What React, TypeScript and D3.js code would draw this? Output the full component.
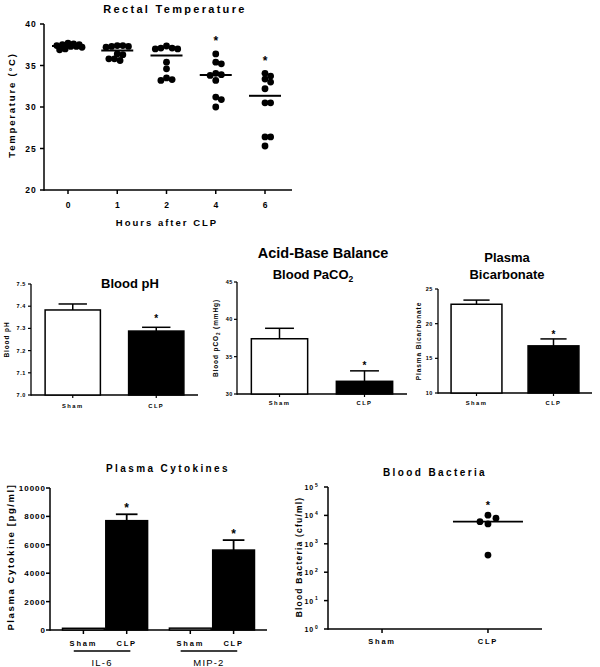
import React from "react";
import * as d3 from "d3";

// ---------------- DATA ----------------
const tempHours = ["0", "1", "2", "4", "6"];
const tempH0 = [37.6, 37.7, 37.5, 37.4, 37.3, 37.3, 37.2, 37.0, 36.9, 37.5];
const tempH1 = [37.4, 37.4, 37.3, 37.3, 37.2, 36.4, 36.3, 35.8, 35.6, 35.8];
const tempH2 = [37.35, 37.1, 37.0, 37.1, 37.0, 35.4, 34.6, 33.5, 33.2, 33.3];
const tempH4 = [36.4, 35.2, 35.4, 34.06, 33.8, 33.2, 33.9, 31.2, 30.0, 30.9];
const tempH6 = [34.06, 33.37, 33.73, 33.0, 32.2, 30.5, 30.5, 26.4, 26.4, 25.3];
const tempSignificant = [false, false, false, true, true];
const tempTicks = [20, 25, 30, 35, 40];

const groups = ["Sham", "CLP"];
const acidSignificant = [false, true];
const phMean = [7.383, 7.288];
const phSem = [0.027, 0.017];
const phTicks = [7.0, 7.1, 7.2, 7.3, 7.4, 7.5];
const pco2Mean = [37.4, 31.7];
const pco2Sem = [1.4, 1.4];
const pco2Ticks = [30, 35, 40, 45];
const bicarbMean = [22.8, 16.8];
const bicarbSem = [0.6, 1.0];
const bicarbTicks = [10, 15, 20, 25];

const cytokineNames = ["IL-6", "MIP-2"];
const cytokineSham = [120, 130];
const cytokineClp = [7700, 5630];
const cytokineClpSem = [450, 700];
const cytokineTicks = [0, 2000, 4000, 6000, 8000, 10000];

const bacteriaGroups = ["Sham", "CLP"];
const bacteriaClp = [10200, 8000, 6000, 5000, 400];
const bacteriaTickExp = [0, 1, 2, 3, 4, 5];

// ---------------- HELPERS ----------------
const FONT = "'Liberation Sans', Arial, Helvetica, sans-serif";

function swarm(ys: number[], minDist: number, step: number, maxSteps: number): number[] {
  const order = ys.map((_, i) => i).sort((a, b) => ys[a] - ys[b]);
  const placed: { x: number; y: number }[] = [];
  const out = new Array(ys.length).fill(0);
  for (const i of order) {
    let best = 0;
    let bestScore = -Infinity;
    for (let k = 0; k <= 2 * maxSteps; k++) {
      const off = (k % 2 === 1 ? 1 : -1) * Math.ceil(k / 2) * step;
      const d = placed.length
        ? Math.min(...placed.map((p) => Math.hypot(p.x - off, p.y - ys[i])))
        : Infinity;
      if (d >= minDist) {
        best = off;
        break;
      }
      if (d > bestScore) {
        bestScore = d;
        best = off;
      }
    }
    placed.push({ x: best, y: ys[i] });
    out[i] = best;
  }
  return out;
}

const Star = ({ x, cy, size }: { x: number; cy: number; size: number }) => (
  <text x={x} y={cy + size * 0.62} textAnchor="middle" fontSize={size} fontWeight="bold" fontFamily={FONT}>
    *
  </text>
);

// ---------------- TEMPERATURE ----------------
function TempChart() {
  const x = d3.scalePoint<string>().domain(tempHours).range([68, 265]);
  const y = d3.scaleLinear().domain([20, 40]).range([190, 24]);
  const series = [tempH0, tempH1, tempH2, tempH4, tempH6];
  const axisX = 44;
  const axisEnd = 292;
  return (
    <g fontFamily={FONT}>
      <text x={175} y={13} textAnchor="middle" fontSize={11} fontWeight="bold" letterSpacing={2.3}>
        Rectal Temperature
      </text>
      <line x1={axisX} x2={axisX} y1={y(40)} y2={y(20) + 0.75} stroke="#000" strokeWidth={1.5} />
      <line x1={axisX} x2={axisEnd} y1={y(20)} y2={y(20)} stroke="#000" strokeWidth={1.5} />
      {tempTicks.map((t) => (
        <g key={t}>
          <line x1={axisX - 4} x2={axisX} y1={y(t)} y2={y(t)} stroke="#000" strokeWidth={1.5} />
          <text x={37} y={y(t) + 3} textAnchor="end" fontSize={8.5} fontWeight="bold" letterSpacing={1.2}>
            {t}
          </text>
        </g>
      ))}
      {tempHours.map((h) => (
        <g key={h}>
          <line x1={x(h)} x2={x(h)} y1={y(20)} y2={y(20) + 4} stroke="#000" strokeWidth={1.5} />
          <text x={x(h)} y={208} textAnchor="middle" fontSize={8.5} fontWeight="bold">
            {h}
          </text>
        </g>
      ))}
      <text x={167} y={226} textAnchor="middle" fontSize={9.5} fontWeight="bold" letterSpacing={2}>
        Hours after CLP
      </text>
      <text
        transform={`translate(15,105) rotate(-90)`}
        textAnchor="middle"
        fontSize={9.5}
        fontWeight="bold"
        letterSpacing={1.8}
      >
        Temperature (°C)
      </text>
      {series.map((vals, gi) => {
        const cx = x(tempHours[gi]) as number;
        const ys = vals.map((v) => y(v));
        const offs = swarm(ys, 5.4, 2.8, 5);
        const med = d3.median(vals) as number;
        return (
          <g key={gi}>
            {vals.map((v, i) => (
              <circle key={i} cx={cx + offs[i]} cy={y(v)} r={3.4} fill="#000" />
            ))}
            <line x1={cx - 16} x2={cx + 16} y1={y(med)} y2={y(med)} stroke="#000" strokeWidth={2} />
            {tempSignificant[gi] && <Star x={cx} cy={y(d3.max(vals) as number) - 16} size={12} />}
          </g>
        );
      })}
    </g>
  );
}

// ---------------- BAR PANELS ----------------
type PanelProps = {
  axisX: number;
  axisEnd: number;
  yBottom: number;
  yTop: number;
  domain: [number, number];
  ticks: number[];
  fmt: (v: number) => string;
  means: number[];
  sems: number[];
  tickRight: number;
  ylabel: React.ReactNode;
  ylabelX: number;
  xlabelY: number;
  starGap: number;
};

function BarPanel(p: PanelProps) {
  const x = d3.scaleBand<string>().domain(groups).range([p.axisX, p.axisEnd]).paddingInner(0.32).paddingOuter(0.16);
  const y = d3.scaleLinear().domain(p.domain).range([p.yBottom, p.yTop]);
  const bw = x.bandwidth();
  return (
    <g fontFamily={FONT}>
      <line x1={p.axisX} x2={p.axisX} y1={p.yTop} y2={p.yBottom + 0.75} stroke="#000" strokeWidth={1.3} />
      <line x1={p.axisX} x2={p.axisEnd} y1={p.yBottom} y2={p.yBottom} stroke="#000" strokeWidth={1.3} />
      {p.ticks.map((t) => (
        <g key={t}>
          <line x1={p.axisX - 3} x2={p.axisX} y1={y(t)} y2={y(t)} stroke="#000" strokeWidth={1.2} />
          <text x={p.tickRight} y={y(t) + 2} textAnchor="end" fontSize={5.5} fontWeight="bold" letterSpacing={0.6}>
            {p.fmt(t)}
          </text>
        </g>
      ))}
      {groups.map((g, i) => {
        const x0 = x(g) as number;
        const cx = x0 + bw / 2;
        const top = y(p.means[i]);
        const errTop = y(p.means[i] + p.sems[i]);
        const sham = i === 0;
        return (
          <g key={g}>
            <rect
              x={x0 + 0.75}
              y={top}
              width={bw - 1.5}
              height={p.yBottom - top}
              fill={sham ? "#fff" : "#000"}
              stroke="#000"
              strokeWidth={1.5}
            />
            <line x1={cx} x2={cx} y1={top} y2={errTop} stroke="#000" strokeWidth={1.5} />
            <line x1={cx - bw / 4} x2={cx + bw / 4} y1={errTop} y2={errTop} stroke="#000" strokeWidth={1.5} />
            <line x1={cx} x2={cx} y1={p.yBottom} y2={p.yBottom + 3} stroke="#000" strokeWidth={1.2} />
            <text x={cx} y={p.xlabelY} textAnchor="middle" fontSize={5.8} fontWeight="bold" letterSpacing={1.4}>
              {g}
            </text>
            {acidSignificant[i] && <Star x={cx} cy={errTop - p.starGap} size={10} />}
          </g>
        );
      })}
      <g transform={`translate(${p.ylabelX},${(p.yTop + p.yBottom) / 2}) rotate(-90)`}>
        <text textAnchor="middle" fontSize={6.5} fontWeight="bold" letterSpacing={0.9} y={2}>
          {p.ylabel}
        </text>
      </g>
    </g>
  );
}

// ---------------- CYTOKINES ----------------
function CytokineChart() {
  const axisX = 50;
  const axisEnd = 267;
  const yB = 630;
  const outer = d3.scaleBand<string>().domain(cytokineNames).range([axisX, axisEnd]).paddingInner(0.19).paddingOuter(0.11);
  const inner = d3.scaleBand<string>().domain(groups).range([0, outer.bandwidth()]);
  const y = d3.scaleLinear().domain([0, 10000]).range([yB, 488]);
  const bw = inner.bandwidth();
  return (
    <g fontFamily={FONT}>
      <text x={168} y={472} textAnchor="middle" fontSize={10} fontWeight="bold" letterSpacing={2.4}>
        Plasma Cytokines
      </text>
      <line x1={axisX} x2={axisX} y1={488} y2={yB + 0.75} stroke="#000" strokeWidth={1.5} />
      <line x1={axisX} x2={axisEnd} y1={yB} y2={yB} stroke="#000" strokeWidth={1.5} />
      {cytokineTicks.map((t) => (
        <g key={t}>
          <line x1={axisX - 4} x2={axisX} y1={y(t)} y2={y(t)} stroke="#000" strokeWidth={1.5} />
          <text x={46} y={y(t) + 3} textAnchor="end" fontSize={8} fontWeight="bold" letterSpacing={1}>
            {t}
          </text>
        </g>
      ))}
      <text
        transform={`translate(14,557) rotate(-90)`}
        textAnchor="middle"
        fontSize={9.5}
        fontWeight="bold"
        letterSpacing={1.6}
      >
        Plasma Cytokine [pg/ml]
      </text>
      {cytokineNames.map((name, ni) => {
        const gx = outer(name) as number;
        const vals = [cytokineSham[ni], cytokineClp[ni]];
        return (
          <g key={name}>
            {groups.map((g, i) => {
              const x0 = gx + (inner(g) as number);
              const cx = x0 + bw / 2;
              const top = y(vals[i]);
              return (
                <g key={g}>
                  <rect
                    x={x0 + 0.75}
                    y={top}
                    width={bw - 1.5}
                    height={yB - top}
                    fill={i === 0 ? "#fff" : "#000"}
                    stroke="#000"
                    strokeWidth={1.5}
                  />
                  {i === 1 && (
                    <g>
                      <line x1={cx} x2={cx} y1={top} y2={y(vals[i] + cytokineClpSem[ni])} stroke="#000" strokeWidth={1.8} />
                      <line
                        x1={cx - bw / 4}
                        x2={cx + bw / 4}
                        y1={y(vals[i] + cytokineClpSem[ni])}
                        y2={y(vals[i] + cytokineClpSem[ni])}
                        stroke="#000"
                        strokeWidth={1.8}
                      />
                      <Star x={cx} cy={y(vals[i] + cytokineClpSem[ni]) - 10} size={12} />
                    </g>
                  )}
                  <line x1={cx} x2={cx} y1={yB} y2={yB + 4} stroke="#000" strokeWidth={1.5} />
                  <text x={cx} y={646} textAnchor="middle" fontSize={7.5} fontWeight="bold" letterSpacing={1.8}>
                    {g}
                  </text>
                </g>
              );
            })}
            <line
              x1={gx + 12}
              x2={gx + outer.bandwidth() - 18}
              y1={651}
              y2={651}
              stroke="#000"
              strokeWidth={1.6}
            />
            <text
              x={gx + outer.bandwidth() / 2 - 3}
              y={666}
              textAnchor="middle"
              fontSize={9.5}
              letterSpacing={1.2}
            >
              {name}
            </text>
          </g>
        );
      })}
    </g>
  );
}

// ---------------- BACTERIA ----------------
function BacteriaChart() {
  const axisX = 328;
  const axisEnd = 542;
  const yB = 629;
  const x = d3.scalePoint<string>().domain(bacteriaGroups).range([axisX, axisEnd]).padding(0.51);
  const y = d3.scaleLog().domain([1, 100000]).range([yB, 487]);
  const cx = x("CLP") as number;
  const ys = bacteriaClp.map((v) => y(v));
  const offs = swarm(ys, 7, 8, 3);
  const med = d3.median(bacteriaClp) as number;
  return (
    <g fontFamily={FONT}>
      <text x={435} y={476} textAnchor="middle" fontSize={10} fontWeight="bold" letterSpacing={2.4}>
        Blood Bacteria
      </text>
      <line x1={axisX} x2={axisX} y1={487} y2={yB + 0.75} stroke="#000" strokeWidth={1.5} />
      <line x1={axisX} x2={axisEnd} y1={yB} y2={yB} stroke="#000" strokeWidth={1.5} />
      {bacteriaTickExp.map((e) => (
        <g key={e}>
          <line x1={axisX - 4} x2={axisX} y1={y(10 ** e)} y2={y(10 ** e)} stroke="#000" strokeWidth={1.5} />
          <text x={314} y={y(10 ** e) + 3} textAnchor="end" fontSize={7} fontWeight="bold" letterSpacing={0.8}>
            10
          </text>
          <text x={315} y={y(10 ** e) - 0.5} fontSize={5} fontWeight="bold">
            {e}
          </text>
        </g>
      ))}
      {bacteriaGroups.map((g) => (
        <g key={g}>
          <line x1={x(g)} x2={x(g)} y1={yB} y2={yB + 4} stroke="#000" strokeWidth={1.5} />
          <text x={x(g)} y={644} textAnchor="middle" fontSize={7.5} fontWeight="bold" letterSpacing={1.8}>
            {g}
          </text>
        </g>
      ))}
      <text
        transform={`translate(302,557) rotate(-90)`}
        textAnchor="middle"
        fontSize={8.5}
        fontWeight="bold"
        letterSpacing={1.2}
      >
        Blood Bacteria (cfu/ml)
      </text>
      {bacteriaClp.map((v, i) => (
        <circle key={i} cx={cx + offs[i]} cy={y(v)} r={3.4} fill="#000" />
      ))}
      <line x1={cx - 35} x2={cx + 35} y1={y(med)} y2={y(med)} stroke="#000" strokeWidth={1.8} />
      <Star x={cx} cy={y(d3.max(bacteriaClp) as number) - 13} size={11} />
    </g>
  );
}

// ---------------- APP ----------------
export default function App() {
  return (
    <svg
      width={600}
      height={667}
      viewBox="0 0 600 667"
      style={{ position: "absolute", left: 0, top: 0, background: "#fff" }}
    >
      <rect width={600} height={667} fill="#fff" />
      <TempChart />

      <g fontFamily={FONT} fontWeight="bold">
        <text x={323} y={258} textAnchor="middle" fontSize={14.5}>
          Acid-Base Balance
        </text>
        <text x={130} y={288} textAnchor="middle" fontSize={13}>
          Blood pH
        </text>
        <text x={313} y={279} textAnchor="middle" fontSize={13}>
          Blood PaCO
          <tspan fontSize={8.5} dy={3}>
            2
          </tspan>
        </text>
        <text x={507} y={262} textAnchor="middle" fontSize={13}>
          Plasma
        </text>
        <text x={507} y={279} textAnchor="middle" fontSize={13}>
          Bicarbonate
        </text>
      </g>

      <BarPanel
        axisX={31}
        axisEnd={198}
        yBottom={395}
        yTop={284}
        domain={[7.0, 7.5]}
        ticks={phTicks}
        fmt={(v) => v.toFixed(1)}
        means={phMean}
        sems={phSem}
        tickRight={26}
        ylabel="Blood pH"
        ylabelX={7}
        xlabelY={408}
        starGap={11}
      />
      <BarPanel
        axisX={237}
        axisEnd={407}
        yBottom={394}
        yTop={282}
        domain={[30, 45]}
        ticks={pco2Ticks}
        fmt={(v) => String(v)}
        means={pco2Mean}
        sems={pco2Sem}
        tickRight={233}
        ylabel={
          <>
            Blood pCO
            <tspan fontSize={4.5} dy={1.5}>
              2
            </tspan>
            <tspan dy={-1.5}> (mmHg)</tspan>
          </>
        }
        ylabelX={216}
        xlabelY={405}
        starGap={8}
      />
      <BarPanel
        axisX={438}
        axisEnd={592}
        yBottom={393}
        yTop={289}
        domain={[10, 25]}
        ticks={bicarbTicks}
        fmt={(v) => String(v)}
        means={bicarbMean}
        sems={bicarbSem}
        tickRight={433}
        ylabel="Plasma Bicarbonate"
        ylabelX={419}
        xlabelY={405}
        starGap={7}
      />

      <CytokineChart />
      <BacteriaChart />
    </svg>
  );
}
